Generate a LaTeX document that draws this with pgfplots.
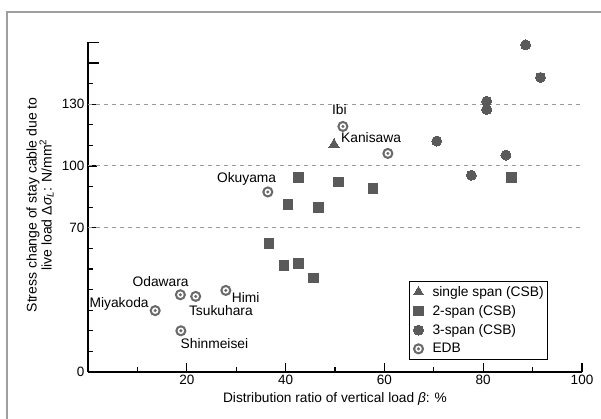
\documentclass[border=0pt]{standalone}
\usepackage{pgfplots}
\pgfplotsset{compat=1.18}
\usepackage{fontspec}
\setmainfont{Liberation Sans}
\definecolor{markgray}{HTML}{5A5A5A}
\definecolor{edbgray}{HTML}{6A6A6A}
\definecolor{gridgray}{HTML}{9A9A9A}
\pgfdeclareplotmark{edb}{%
  \pgfpathcircle{\pgfpointorigin}{\pgfplotmarksize}%
  \pgfsetfillcolor{edbgray}\pgfusepathqfill
  \pgfpathcircle{\pgfpointorigin}{0.58\pgfplotmarksize}%
  \pgfsetfillcolor{white}\pgfusepathqfill
  \pgfpathcircle{\pgfpointorigin}{0.3\pgfplotmarksize}%
  \pgfsetfillcolor{edbgray}\pgfusepathqfill
}
\begin{document}
\begin{tikzpicture}
\useasboundingbox (-88pt,-47pt) rectangle (513pt,372pt);
\draw[gray!75, line width=1.2pt] (-81pt,-60pt) -- (-81pt,360pt) -- (530pt,360pt);
\begin{axis}[
  scale only axis,
  width=494pt, height=329.6pt,
  xmin=0, xmax=100, ymin=0, ymax=160,
  axis x line=bottom, axis y line=left,
  axis line style={line width=1.5pt, -},
  every tick/.style={black, line width=1.2pt},
  tick align=inside,
  xtick={20,40,60,80,100},
  minor xtick={10,30,50,70,90},
  ytick={0,70,100,130},
  minor ytick={10,20,30,40,50,60,80,90,110,120,140},
  extra y ticks={150,160},
  extra y tick labels={},
  extra y tick style={major tick length=11pt},
  major tick length=9pt,
  minor tick length=5pt,
  /pgf/number format/assume math mode=true,
  tick label style={font=\fontsize{13.5}{16}\selectfont},
  xlabel={Distribution ratio of vertical load {\itshape β}: \%},
  xlabel style={font=\fontsize{13.7}{16}\selectfont, at={(axis description cs:0.5,-0.082)}, anchor=center},
  ylabel={Stress change of stay cable due to\\live load Δ{\itshape σ}\textsubscript{\itshape L}: N/mm\textsuperscript{2}},
  ylabel style={font=\fontsize{14}{15}\selectfont, align=center, at={(axis description cs:-0.097,0.507)}, anchor=center},
  clip=false,
  legend style={at={(axis cs:65,44.2)}, anchor=north west, draw=black, line width=0.8pt,
    font=\fontsize{13.8}{16}\selectfont, row sep=3.5pt, inner xsep=2pt, inner ysep=3pt},
  legend cell align=left,
  legend image code/.code={\path[draw=none,fill=none] (0pt,-4pt) rectangle (19pt,4pt); \draw plot coordinates {(7pt,0pt)};},
]
\draw[gridgray, line width=1pt, dash pattern=on 4pt off 4pt] (axis cs:0,70) -- (axis cs:100,70);
\draw[gridgray, line width=1pt, dash pattern=on 4pt off 4pt] (axis cs:0,100) -- (axis cs:100,100);
\draw[gridgray, line width=1pt, dash pattern=on 4pt off 4pt] (axis cs:0,130) -- (axis cs:100,130);

\addplot[only marks, mark=triangle*, mark size=5.8pt, color=markgray, mark options={line width=0pt}]
  coordinates {(49.8,110.5)};
\addlegendentry{single span (CSB)}

\addplot[only marks, mark=square*, mark size=4.8pt, color=markgray, mark options={line width=0pt}]
  coordinates {(42.6,94.3) (40.5,81.2) (50.7,92.3) (57.7,89.2) (46.7,79.9) (85.7,94.3)
               (36.6,62.5) (39.7,51.7) (42.6,52.6) (45.7,45.6)};
\addlegendentry{2-span (CSB)}

\addplot[only marks, mark=*, mark size=5pt, color=markgray, mark options={line width=0pt}]
  coordinates {(88.6,158.8) (91.6,143.0) (80.7,131.4) (80.7,127.4) (70.6,112.1) (84.6,105.3) (77.6,95.5)};
\addlegendentry{3-span (CSB)}

\addplot[only marks, mark=edb, mark size=5.6pt]
  coordinates {(36.4,87.4) (51.6,119.2) (60.7,106.1) (18.7,37.5) (21.8,36.7) (27.9,39.6) (13.6,29.8) (18.8,20.0)};
\addlegendentry{EDB}

\begin{scope}[every node/.style={font=\fontsize{13.8}{16}\selectfont, inner sep=0pt}]
\node at (axis cs:32.1,93.7) {Okuyama};
\node at (axis cs:50.9,127.2) {Ibi};
\node at (axis cs:57.3,113.9) {Kanisawa};
\node at (axis cs:14.7,43.8) {Odawara};
\node at (axis cs:6.3,33.0) {Miyakoda};
\node at (axis cs:26.9,29.6) {Tsukuhara};
\node at (axis cs:31.9,36.3) {Himi};
\node at (axis cs:25.6,13.6) {Shinmeisei};
\end{scope}
\end{axis}
\end{tikzpicture}
\end{document}
